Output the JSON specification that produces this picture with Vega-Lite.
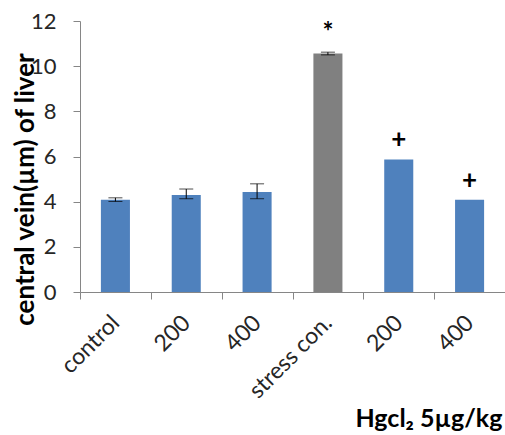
{
  "$schema": "https://vega.github.io/schema/vega-lite/v6.json",
  "width": 425,
  "height": 271,
  "autosize": "none",
  "padding": {"left": 80, "top": 21, "right": 0, "bottom": 143},
  "background": "white",
  "config": {"view": {"stroke": null}, "font": "Lato"},
  "data": {
    "values": [
      {"key": "c", "group": "treated", "value": 4.09, "lo": 4.01, "hi": 4.17, "mark": ""},
      {"key": "a200", "group": "treated", "value": 4.3, "lo": 4.13, "hi": 4.56, "mark": ""},
      {"key": "a400", "group": "treated", "value": 4.43, "lo": 4.13, "hi": 4.79, "mark": ""},
      {"key": "s", "group": "stress", "value": 10.56, "lo": 10.5, "hi": 10.62, "mark": "*"},
      {"key": "b200", "group": "treated", "value": 5.87, "mark": "+"},
      {"key": "b400", "group": "treated", "value": 4.09, "mark": "+"}
    ]
  },
  "encoding": {
    "x": {
      "field": "key",
      "type": "nominal",
      "sort": null,
      "scale": {"paddingInner": 0, "paddingOuter": 0},
      "axis": {
        "labelExpr": "datum.value == 'c' ? 'control' : datum.value == 's' ? 'stress con.' : (datum.value == 'a200' || datum.value == 'b200') ? '200' : (datum.value == 'a400' || datum.value == 'b400') ? '400' : ''",
        "labelAngle": -45,
        "labelAlign": "right",
        "labelBaseline": "middle",
        "labelFontSize": 23,
        "labelColor": "#262626",
        "labelPadding": 20,
        "tickBand": "extent",
        "tickSize": 7,
        "tickColor": "#868686",
        "domainColor": "#868686",
        "title": "Hgcl₂  5µg/kg",
        "titleFontSize": 25,
        "titleFontWeight": "bold",
        "titleColor": "#000000",
        "titleAnchor": "start",
        "titleAlign": "left",
        "titleBaseline": "alphabetic",
        "titleX": 275,
        "titleY": 134
      }
    }
  },
  "layer": [
    {
      "mark": {"type": "bar", "width": {"band": 0.41}},
      "encoding": {
        "y": {
          "field": "value",
          "type": "quantitative",
          "scale": {"domain": [0, 12], "nice": false},
          "axis": {
            "values": [0, 2, 4, 6, 8, 10, 12],
            "grid": false,
            "tickSize": 7,
            "tickColor": "#868686",
            "domainColor": "#868686",
            "labelFontSize": 22,
            "labelColor": "#262626",
            "labelPadding": 17,
            "title": "central vein(µm) of liver",
            "titleFontSize": 26,
            "titleFontWeight": "bold",
            "titleColor": "#000000",
            "titleAngle": -90,
            "titleAlign": "center",
            "titleBaseline": "alphabetic",
            "titleX": -47,
            "titleY": 168
          }
        },
        "color": {
          "field": "group",
          "type": "nominal",
          "scale": {"domain": ["treated", "stress"], "range": ["#4F81BD", "#808080"]},
          "legend": null
        }
      }
    },
    {
      "transform": [{"filter": "isValid(datum.lo)"}],
      "mark": {"type": "rule", "color": "#000000", "strokeWidth": 1},
      "encoding": {
        "y": {"field": "lo", "type": "quantitative"},
        "y2": {"field": "hi"}
      }
    },
    {
      "transform": [{"filter": "isValid(datum.lo)"}],
      "mark": {"type": "tick", "color": "#000000", "size": 14, "thickness": 1},
      "encoding": {"y": {"field": "lo", "type": "quantitative"}}
    },
    {
      "transform": [{"filter": "isValid(datum.hi)"}],
      "mark": {"type": "tick", "color": "#000000", "size": 14, "thickness": 1},
      "encoding": {"y": {"field": "hi", "type": "quantitative"}}
    },
    {
      "transform": [{"filter": "datum.mark == '*'"}],
      "mark": {"type": "text", "fontSize": 26, "fontWeight": "bold", "color": "#000000", "baseline": "alphabetic", "dy": -11},
      "encoding": {"y": {"field": "hi", "type": "quantitative"}, "text": {"field": "mark"}}
    },
    {
      "transform": [{"filter": "datum.mark == '+'"}],
      "mark": {"type": "text", "fontSize": 26, "fontWeight": "bold", "color": "#000000", "baseline": "alphabetic", "dy": -11},
      "encoding": {"y": {"field": "value", "type": "quantitative"}, "text": {"field": "mark"}}
    }
  ]
}
